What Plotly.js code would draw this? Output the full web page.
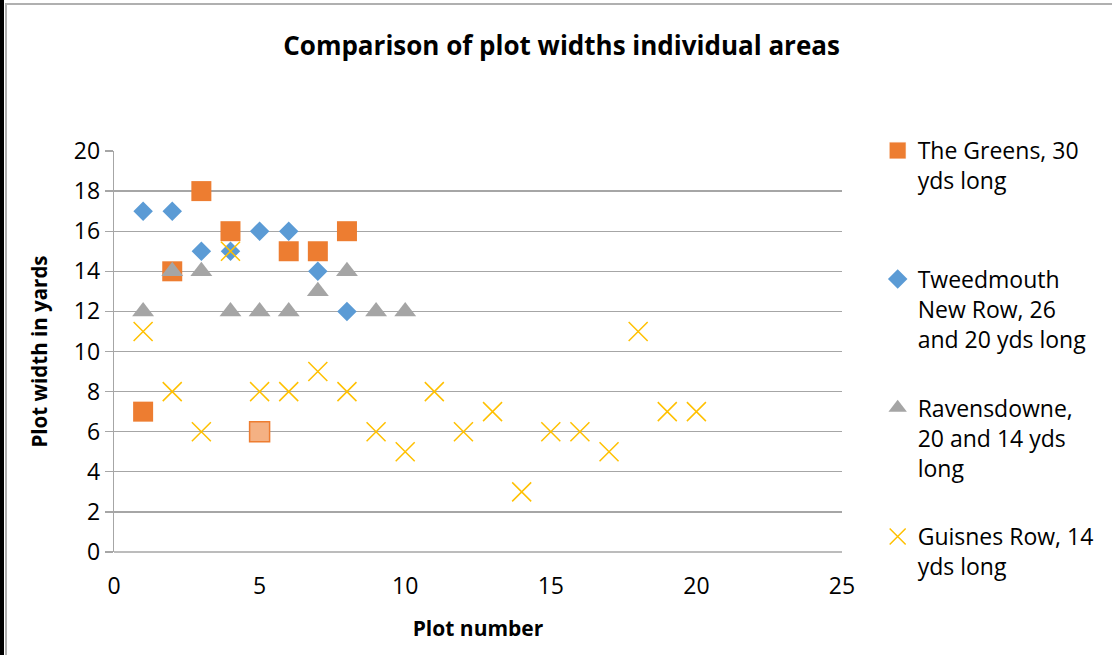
<!DOCTYPE html>
<html>
<head>
<meta charset="utf-8">
<script src="https://cdn.plot.ly/plotly-3.0.1.min.js"></script>
<style>
  html, body { margin: 0; padding: 0; background: #fff; }
  #wrap { position: relative; width: 1112px; height: 655px; overflow: hidden; }
  #chart { position: absolute; left: 0; top: 0; width: 1112px; height: 655px; }
  .bl { position: absolute; left: 0; top: 0; width: 4px; height: 655px; background: #000; z-index: 5; }
  .bg { position: absolute; left: 5px; top: 3px; width: 2px; height: 652px; background: #b0b0b0; z-index: 5; }
  .bt { position: absolute; left: 5px; top: 3px; width: 1107px; height: 2px; background: #b0b0b0; z-index: 5; }
</style>
</head>
<body>
<div id="wrap">
  <div id="chart"></div>
  <div class="bl"></div><div class="bg"></div><div class="bt"></div>
</div>
<script>
// Data
const greensX = [1, 2, 3, 4, 5, 6, 7, 8];
const greensY = [7, 14, 18, 16, 6, 15, 15, 16];

const tweedX = [1, 2, 3, 4, 5, 6, 7, 8];
const tweedY = [17, 17, 15, 15, 16, 16, 14, 12];

const ravensX = [1, 2, 3, 4, 5, 6, 7, 8, 9, 10];
const ravensY = [12, 14, 14, 12, 12, 12, 13, 14, 12, 12];

const guisnesX = [1, 2, 3, 4, 5, 6, 7, 8, 9, 10, 11, 12, 13, 14, 15, 16, 17, 18, 19, 20];
const guisnesY = [11, 8, 6, 15, 8, 8, 9, 8, 6, 5, 8, 6, 7, 3, 6, 6, 5, 11, 7, 7];

const seriesNames = [
  "The Greens, 30<br>yds long<br> ",
  "Tweedmouth<br>New Row, 26<br>and 20 yds long",
  "Ravensdowne,<br>20 and 14 yds<br>long",
  "Guisnes Row, 14<br>yds long"
];

const xTicks = [0, 5, 10, 15, 20, 25];
const yTicks = [0, 2, 4, 6, 8, 10, 12, 14, 16, 18, 20];

const FONT = "Open Sans, Noto Sans, sans-serif";

// highlighted point (plot 5) of The Greens drawn in lighter colour
const greensFill = greensX.map(x => x === 5 ? "#F4B183" : "#ED7D31");
const greensLine = greensX.map(x => x === 5 ? 1.5 : 0);

const traces = [
  {
    x: greensX, y: greensY, name: seriesNames[0], type: "scatter", mode: "markers",
    legendgroup: "g1",
    marker: { symbol: "square", size: 20, color: greensFill, line: { color: "#ED7D31", width: greensLine } }
  },
  {
    x: tweedX, y: tweedY, name: seriesNames[1], type: "scatter", mode: "markers",
    legendgroup: "g2",
    marker: { symbol: "diamond", size: 15, color: "#5B9BD5", line: { width: 0 } }
  },
  {
    x: ravensX, y: ravensY, name: seriesNames[2], type: "scatter", mode: "markers",
    legendgroup: "g3",
    marker: { symbol: "triangle-up", size: 19, color: "#A5A5A5", line: { width: 0 } }
  },
  {
    x: guisnesX, y: guisnesY, name: seriesNames[3], type: "scatter", mode: "markers",
    legendgroup: "g4",
    marker: { symbol: "x-thin-open", size: 19, color: "#FFC000", line: { color: "#FFC000", width: 1.5 } }
  }
];

const layout = {
  width: 1112, height: 655,
  margin: { l: 114, r: 270, t: 151, b: 103 },
  paper_bgcolor: "#ffffff", plot_bgcolor: "#ffffff",
  font: { family: FONT, color: "#000" },
  title: {
    text: "<b>Comparison of plot widths individual areas</b>",
    font: { family: FONT, size: 26, color: "#000" },
    x: 0.505, xanchor: "center", y: 0.93, yanchor: "middle"
  },
  xaxis: {
    range: [0, 25], tickvals: xTicks, ticktext: xTicks.map(String),
    showgrid: false, zeroline: false, showline: false,
    ticks: "", tickfont: { size: 23, color: "#000" },
    ticklabelstandoff: 18,
    title: { text: "<b>Plot number</b>", font: { size: 21, color: "#000" }, standoff: 21 }
  },
  yaxis: {
    range: [0, 20], tickvals: yTicks, ticktext: yTicks.map(String),
    showgrid: true, gridcolor: "#A6A6A6", gridwidth: 1.3,
    zeroline: false, showline: true, linecolor: "#A6A6A6", linewidth: 1.3,
    ticks: "outside", ticklen: 8, tickcolor: "#A6A6A6", tickwidth: 1.3,
    tickfont: { size: 23, color: "#000" },
    title: { text: "<b>Plot width in yards</b>", font: { size: 20.5, color: "#000" }, standoff: 20 }
  },
  showlegend: true,
  legend: {
    x: 1.049, xanchor: "left", y: 1.055, yanchor: "top",
    font: { size: 23, color: "#000", family: FONT },
    valign: "top", traceorder: "grouped", tracegroupgap: 36,
    bgcolor: "rgba(0,0,0,0)", itemwidth: 30, maxheight: 560
  },
  shapes: [
    { type: "line", xref: "paper", yref: "paper", x0: 0, x1: 1, y0: 0, y1: 0, line: { color: "#A6A6A6", width: 1.3 } }
  ]
};

Plotly.newPlot("chart", traces, layout, { displayModeBar: false, staticPlot: true });
</script>
</body>
</html>
